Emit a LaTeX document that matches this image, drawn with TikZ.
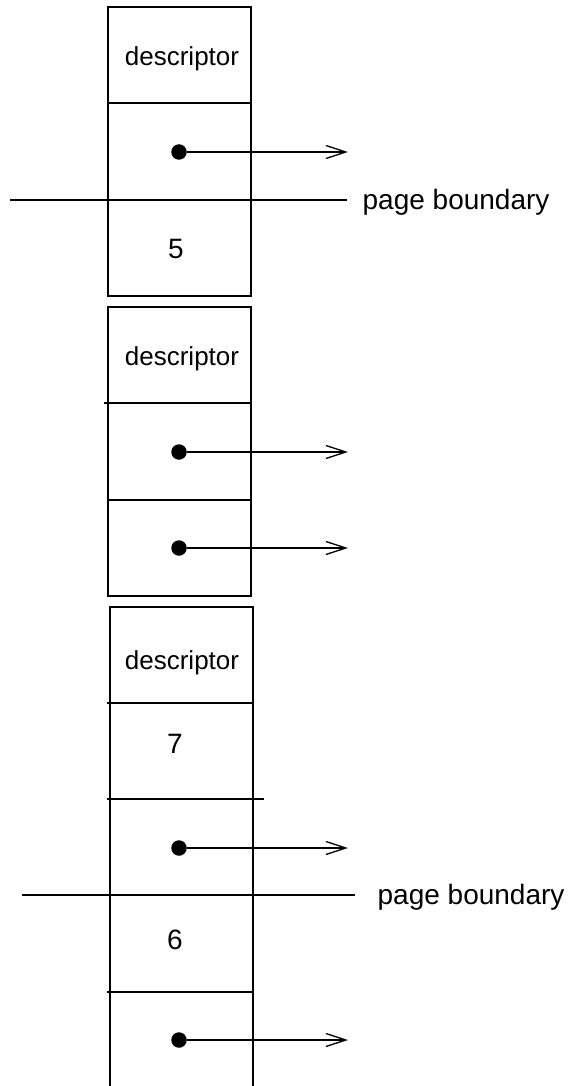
\documentclass[tikz,border=0pt]{standalone}
\usepackage{fontspec}
\setmainfont{Liberation Sans}
\usetikzlibrary{arrows.meta}

\tikzset{
  label/.style={inner sep=0pt,font=\fontsize{26}{30}\selectfont},
  biglabel/.style={inner sep=0pt,font=\fontsize{28}{32}\selectfont},
  dot/.style={circle,fill,inner sep=0pt,minimum size=15.5pt},
  ptr/.style={draw,-{Straight Barb[length=20pt,width=13pt]}}
}

\begin{document}
\begin{tikzpicture}[x=1pt,y=-1pt,line width=1.3pt]

      \useasboundingbox (0,0) rectangle (571,1086);

      \draw (108,7) rectangle (251,296);
      \draw (108,103) -- (251,103);
      \draw (108,200) -- (251,200);

      \draw (108,307) rectangle (251,596);
      \draw (104,403) -- (250,403);
      \draw (108,500) -- (251,500);

      \draw (110,1086) -- (110,607) -- (253,607) -- (253,1086);
      \draw (107,703) -- (252,703);
      \draw (107,799) -- (264,799);
      \draw (107,992) -- (252,992);

      \begin{scope}[every node/.style={label}]
        \node (d1)  at (182,59)  {descriptor};
        \node (d2)  at (182,359) {descriptor};
        \node (d3)  at (182,663) {descriptor};
      \end{scope}

      \begin{scope}[every node/.style={biglabel}]
        \node (v5)  at (176,249) {5};
        \node (v7)  at (175,744) {7};
        \node (v6)  at (175,940) {6};
        \node[anchor=west] (pb1) at (362,202) {page boundary};
        \node[anchor=west] (pb2) at (377,897) {page boundary};
      \end{scope}

      \begin{scope}[every node/.style={dot}]
        \node (p1) at (179,152)  {};
        \node (p2) at (179,452)  {};
        \node (p3) at (179,548)  {};
        \node (p4) at (179,848)  {};
        \node (p5) at (179,1040) {};
      \end{scope}

      \coordinate (t1) at (348,152);
      \coordinate (t2) at (348,452);
      \coordinate (t3) at (348,548);
      \coordinate (t4) at (348,848);
      \coordinate (t5) at (348,1040);

      \coordinate (b1) at (10,200);
      \coordinate (e1) at (347,200);
      \coordinate (b2) at (22,895);
      \coordinate (e2) at (355,895);

      \begin{scope}[every edge/.style={ptr}]
        \path (p1) edge (t1);
        \path (p2) edge (t2);
        \path (p3) edge (t3);
        \path (p4) edge (t4);
        \path (p5) edge (t5);
      \end{scope}

      \draw (b1) -- (e1);
      \draw (b2) -- (e2);

    \end{tikzpicture}
\end{document}
